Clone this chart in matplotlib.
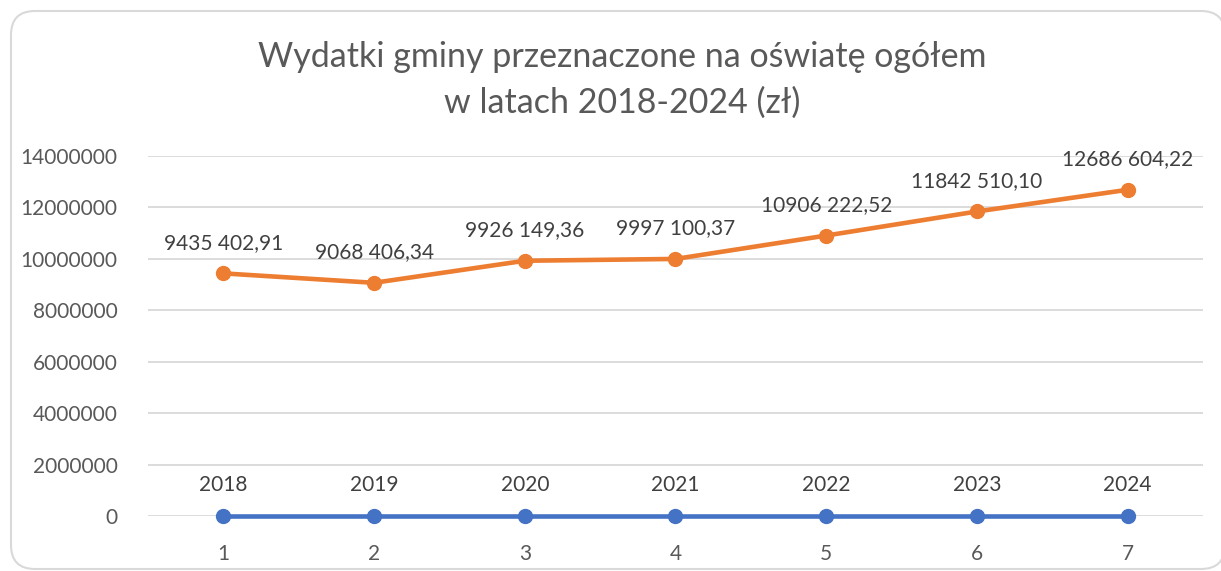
import matplotlib.pyplot as plt
from matplotlib.patches import FancyBboxPatch

# data
categories = [1, 2, 3, 4, 5, 6, 7]
years = [2018, 2019, 2020, 2021, 2022, 2023, 2024]
spending = [9435402.91, 9068406.34, 9926149.36, 9997100.37,
            10906222.52, 11842510.10, 12686604.22]
yticks = [0, 2000000, 4000000, 6000000, 8000000, 10000000, 12000000, 14000000]

plt.rcParams['font.family'] = ['Lato', 'DejaVu Sans']

def fmt(v):
    # Excel style "9435 402,91"
    cents = int(round(v * 100))
    whole, frac = divmod(cents, 100)
    return f"{whole // 1000} {whole % 1000:03d},{frac:02d}"

fig = plt.figure(figsize=(12.21, 5.71), dpi=100)
W, H = 1221, 571

# background axes in pixel units for the rounded chart border
bg = fig.add_axes([0, 0, 1, 1])
bg.set_xlim(0, W)
bg.set_ylim(H, 0)
bg.axis('off')
bg.add_patch(FancyBboxPatch((11, 11), 1225 - 11, 569 - 11,
                            boxstyle="round,pad=0,rounding_size=24",
                            fc='white', ec='#D9D9D9', lw=1.5, clip_on=False))

ax = fig.add_axes([148 / W, 1 - 516 / H, (1203 - 148) / W, (516 - 156) / H])
ax.set_facecolor('none')

ax.plot(categories, years, color='#4472C4', lw=3.3, marker='o', ms=10,
        zorder=3, clip_on=False)
ax.plot(categories, spending, color='#ED7D31', lw=3.3, marker='o', ms=10,
        zorder=3, clip_on=False)

for x, y in zip(categories, years):
    ax.annotate(str(y), (x, y), xytext=(0, 22), textcoords='offset points',
                ha='center', va='center', fontsize=15, color='#404040')
for x, y in zip(categories, spending):
    ax.annotate(fmt(y), (x, y), xytext=(0, 22), textcoords='offset points',
                ha='center', va='center', fontsize=15, color='#404040')

ax.set_xlim(0.5, 7.5)
ax.set_ylim(0, 14000000)
ax.set_xticks(categories)
ax.set_yticks(yticks)
ax.set_yticklabels([str(t) for t in yticks])
ax.tick_params(length=0, labelsize=15, labelcolor='#595959')
ax.tick_params(axis='x', pad=20)
ax.tick_params(axis='y', pad=22)
ax.grid(axis='y', color='#D9D9D9', lw=1.3)
ax.set_axisbelow(True)
for s in ax.spines.values():
    s.set_visible(False)

fig.text(622 / W, 1 - 80 / H, "Wydatki gminy przeznaczone na oświatę ogółem\nw latach 2018-2024 (zł)",
         ha='center', va='center', fontsize=24.5, color='#595959', linespacing=1.5)

fig.savefig('out.png', dpi=100)
